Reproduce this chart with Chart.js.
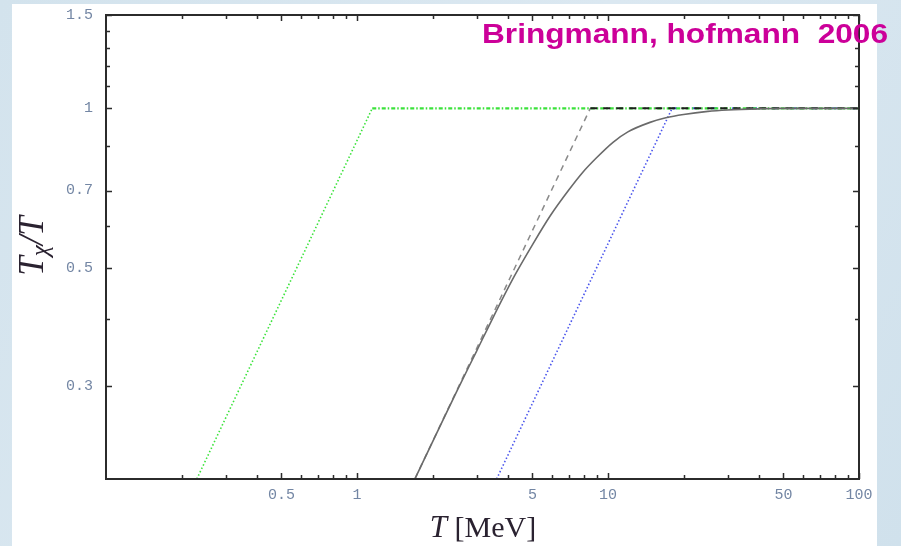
<!DOCTYPE html>
<html>
<head>
<meta charset="utf-8">
<script src="https://cdn.jsdelivr.net/npm/chart.js@4.4.1/dist/chart.umd.min.js"></script>
<style>
  html, body { margin: 0; padding: 0; background: #d5e4ee; overflow: hidden; }
</style>
</head>
<body>
<canvas id="decoupling" width="901" height="546"></canvas>
<script>
// T in MeV, y = T_chi / T
const tFull = [1.7, 2, 2.5, 3, 3.5, 4.24, 5, 5.87, 7, 7.94, 9, 10.47, 12, 14.7, 17, 20, 25, 30, 40, 50, 100];
const ratioFull = [0.2, 0.235, 0.293, 0.349, 0.405, 0.483, 0.553, 0.626, 0.703, 0.758, 0.807, 0.863, 0.903, 0.941, 0.96, 0.974, 0.987, 0.993, 0.998, 1, 1];

// instant kinetic decoupling approximations
const tInstant = [1.7, 8.5, 100];
const ratioInstant = [0.2, 1, 1];
const tGreen = [0.23, 1.15, 100];
const ratioGreen = [0.2, 1, 1];
const tBlue = [3.6, 18, 100];
const ratioBlue = [0.2, 1, 1];

const xMajorTicks = [0.5, 1, 5, 10, 50, 100];
const xMinorTicks = [0.2, 0.3, 0.4, 0.6, 0.7, 0.8, 0.9, 2, 3, 4, 6, 7, 8, 9, 20, 30, 40, 60, 70, 80, 90];
const yMajorTicks = [0.3, 0.5, 0.7, 1, 1.5];
const yMinorTicks = [0.4, 0.6, 0.85, 1.1, 1.2, 1.3, 1.4];

const pts = (xs, ys) => xs.map((x, i) => ({ x: x, y: ys[i] }));
const flat = c => c.p0.parsed.y === 1 && c.p1.parsed.y === 1;

const backdrop = {
  id: 'backdrop',
  beforeDraw(chart) {
    const ctx = chart.ctx;
    ctx.save();
    const g = ctx.createLinearGradient(0, 0, 901, 546);
    g.addColorStop(0, '#d3e3ed');
    g.addColorStop(0.5, '#dbe8f1');
    g.addColorStop(1, '#d0e1ec');
    ctx.fillStyle = g;
    ctx.fillRect(0, 0, 901, 546);
    ctx.fillStyle = '#ffffff';
    ctx.fillRect(12, 4, 865, 542);
    ctx.restore();
  }
};

const frameTicks = {
  id: 'frameTicks',
  afterDatasetsDraw(chart) {
    const { ctx, chartArea: a } = chart;
    const x = chart.scales.x, y = chart.scales.y;
    ctx.save();
    ctx.strokeStyle = '#2b2b2b';
    ctx.lineWidth = 1.5;
    ctx.beginPath();
    const xt = (v, len) => {
      const px = Math.round(x.getPixelForValue(v)) + 0.5;
      ctx.moveTo(px, a.bottom); ctx.lineTo(px, a.bottom - len);
      ctx.moveTo(px, a.top); ctx.lineTo(px, a.top + len);
    };
    const yt = (v, len) => {
      const py = Math.round(y.getPixelForValue(v)) + 0.5;
      ctx.moveTo(a.left, py); ctx.lineTo(a.left + len, py);
      ctx.moveTo(a.right, py); ctx.lineTo(a.right - len, py);
    };
    xMajorTicks.forEach(v => xt(v, 6));
    xMinorTicks.forEach(v => xt(v, 4));
    yMajorTicks.forEach(v => yt(v, 6));
    yMinorTicks.forEach(v => yt(v, 4));
    ctx.stroke();
    ctx.lineWidth = 2;
    ctx.strokeRect(a.left, a.top, a.right - a.left, a.bottom - a.top);
    ctx.restore();
  }
};

const labels = {
  id: 'labels',
  afterDraw(chart) {
    const ctx = chart.ctx;
    ctx.save();
    ctx.fillStyle = '#2a2230';
    ctx.textBaseline = 'alphabetic';
    ctx.textAlign = 'left';

    // x axis title
    const italic = 'italic 31px "Liberation Serif", serif';
    const upright = '30px "Liberation Serif", serif';
    ctx.font = italic;
    const wT = ctx.measureText('T').width;
    ctx.font = upright;
    const wUnit = ctx.measureText(' [MeV]').width;
    let px = 483 - (wT + wUnit) / 2;
    ctx.font = italic;
    ctx.fillText('T', px, 537);
    ctx.font = upright;
    ctx.fillText(' [MeV]', px + wT, 537);

    // y axis title, rotated
    ctx.translate(43, 246);
    ctx.rotate(-Math.PI / 2);
    const big = 'italic 35px "Liberation Serif", serif';
    const sub = 'italic 25px "Liberation Serif", serif';
    ctx.font = big;
    const w1 = ctx.measureText('T').width;
    const w3 = ctx.measureText('/T').width;
    ctx.font = sub;
    const w2 = ctx.measureText('χ').width;
    let u = -(w1 + w2 + w3) / 2;
    ctx.font = big;
    ctx.fillText('T', u, 0);
    u += w1;
    ctx.font = sub;
    ctx.fillText('χ', u, 5);
    u += w2;
    ctx.font = big;
    ctx.fillText('/T', u, 0);
    ctx.restore();

    // reference note, top right
    ctx.save();
    const note = 'Bringmann, hofmann  2006';
    ctx.font = 'bold 28px "Liberation Sans", Arial, sans-serif';
    ctx.fillStyle = '#cc0099';
    const wn = ctx.measureText(note).width;
    ctx.translate(482, 43);
    ctx.scale(406 / wn, 1);
    ctx.textAlign = 'left';
    ctx.fillText(note, 0, 0);
    ctx.restore();
  }
};

new Chart(document.getElementById('decoupling').getContext('2d'), {
  type: 'line',
  data: {
    datasets: [
      {
        label: 'full',
        data: pts(tFull, ratioFull),
        borderColor: '#6a6a6a',
        borderWidth: 1.6,
        cubicInterpolationMode: 'monotone'
      },
      {
        label: 'instant',
        data: pts(tInstant, ratioInstant),
        borderColor: '#8a8a8a',
        borderWidth: 1.5,
        borderDash: [6, 5],
        segment: {
          borderColor: c => flat(c) ? '#1e1e1e' : undefined,
          borderWidth: c => flat(c) ? 2 : undefined,
          borderDash: c => flat(c) ? [7, 6] : undefined
        }
      },
      {
        label: 'green',
        data: pts(tGreen, ratioGreen),
        borderColor: '#3be23b',
        borderWidth: 1.6,
        borderDash: [1.5, 2.2],
        segment: {
          borderWidth: c => flat(c) ? 2.2 : undefined,
          borderDash: c => flat(c) ? [4, 2, 1.5, 2] : undefined
        }
      },
      {
        label: 'blue',
        data: pts(tBlue, ratioBlue),
        borderColor: '#4a55ec',
        borderWidth: 1.6,
        borderDash: [1.5, 2.2],
        segment: {
          borderWidth: c => flat(c) ? 2 : undefined,
          borderDash: c => flat(c) ? [5, 15] : undefined
        }
      }
    ]
  },
  options: {
    responsive: false,
    animation: false,
    parsing: false,
    elements: { point: { radius: 0 }, line: { tension: 0 } },
    layout: { padding: { left: 0, top: 15, right: 42, bottom: 0 } },
    plugins: { legend: { display: false }, tooltip: { enabled: false } },
    scales: {
      x: {
        type: 'logarithmic',
        min: 0.1,
        max: 100,
        grid: { display: false, drawTicks: false },
        border: { display: false },
        afterBuildTicks: s => { s.ticks = xMajorTicks.concat(xMinorTicks).sort((a, b) => a - b).map(v => ({ value: v })); },
        afterFit: s => { s.height = 67; s.paddingLeft = 0; s.paddingRight = 0; },
        ticks: {
          autoSkip: false,
          maxRotation: 0,
          padding: 7,
          color: '#7386a4',
          font: { family: '"Liberation Mono", monospace', size: 15 },
          callback: v => xMajorTicks.includes(v) ? String(v) : ''
        }
      },
      y: {
        type: 'logarithmic',
        min: 0.2,
        max: 1.5,
        grid: { display: false, drawTicks: false },
        border: { display: false },
        afterBuildTicks: s => { s.ticks = yMajorTicks.concat(yMinorTicks).sort((a, b) => a - b).map(v => ({ value: v })); },
        afterFit: s => { s.width = 106; s.paddingTop = 0; s.paddingBottom = 0; },
        ticks: {
          autoSkip: false,
          padding: 13,
          color: '#7386a4',
          font: { family: '"Liberation Mono", monospace', size: 15 },
          callback: v => yMajorTicks.includes(v) ? String(v) : ''
        }
      }
    }
  },
  plugins: [backdrop, frameTicks, labels]
});
</script>
</body>
</html>
